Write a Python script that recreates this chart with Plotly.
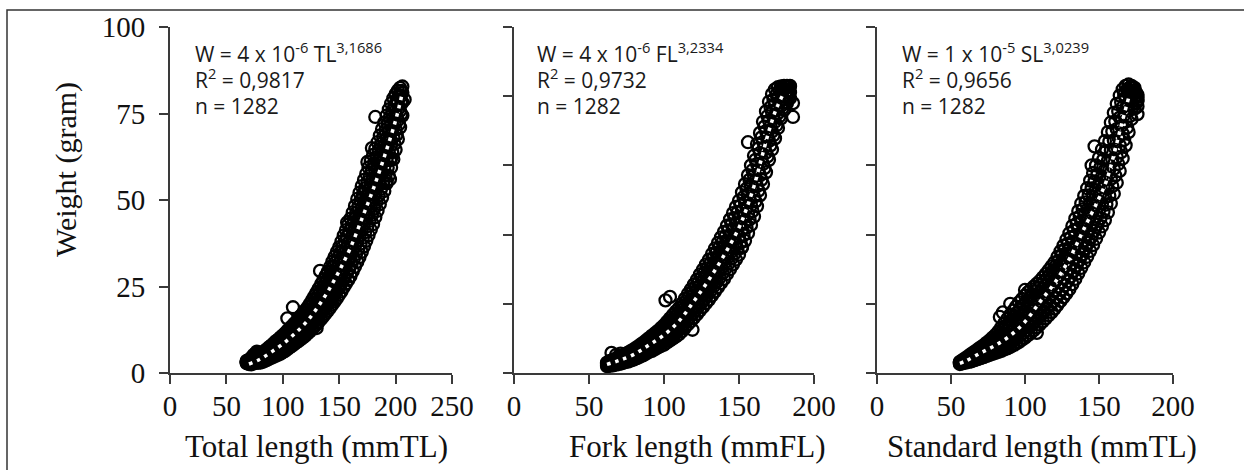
import plotly.graph_objects as go

# ---------------- data ----------------
# Each cloud: a list of lengths (every 2 mm) with four weight columns across the band,
# plus a list of odd lengths with three weight columns, plus a few outlying fish.

# Panel 1: Total length (mm) vs weight (g)
tl_len = [68, 70, 72, 74, 76, 78, 80, 82, 84, 86, 88, 90, 92, 94, 96, 98, 100, 102, 104, 106,
          108, 110, 112, 114, 116, 118, 120, 122, 124, 126, 128, 130, 132, 134, 136, 138, 140, 142, 144, 146,
          148, 150, 152, 154, 156, 158, 160, 162, 164, 166, 168, 170, 172, 174, 176, 178, 180, 182, 184, 186,
          188, 190, 192, 194, 196, 198, 200, 202, 204, 206]
tl_w1 = [2.8, 2.6, 2.5, 2.8, 2.9, 3.0, 3.0, 3.2, 3.5, 3.8, 4.1, 4.4, 4.7, 5.0, 5.3, 5.6, 6.0, 6.4, 6.9, 7.4,
         7.8, 8.3, 8.8, 9.3, 9.8, 10.3, 10.8, 11.4, 12.0, 12.7, 13.4, 14.0, 14.8, 15.6, 16.4, 17.2, 18.0, 18.9, 19.8, 20.7,
         21.6, 22.6, 23.6, 24.8, 25.8, 26.9, 28.0, 29.4, 30.7, 32.1, 33.5, 35.0, 36.6, 38.2, 39.8, 41.4, 43.0, 45.0, 46.9, 48.8,
         50.7, 52.6, 54.8, 57.0, 59.4, 61.8, 64.5, 67.6, 71.0, 74.4]
tl_w2 = [3.0, 2.9, 3.0, 3.3, 3.5, 3.6, 3.8, 4.1, 4.4, 4.8, 5.2, 5.6, 6.0, 6.4, 6.8, 7.2, 7.6, 8.1, 8.7, 9.2,
         9.7, 10.3, 10.8, 11.5, 12.0, 12.7, 13.3, 14.0, 14.7, 15.5, 16.4, 17.1, 18.1, 19.0, 19.9, 20.9, 21.8, 23.0, 24.1, 25.1,
         26.2, 27.3, 28.5, 29.8, 31.0, 32.3, 33.5, 35.1, 36.6, 38.2, 39.8, 41.5, 43.2, 44.9, 46.6, 48.3, 50.0, 51.9, 53.8, 55.7,
         57.6, 59.5, 61.6, 63.7, 65.9, 68.1, 70.4, 73.1, 75.8, 78.2]
tl_w3 = [3.2, 3.3, 3.6, 3.8, 4.1, 4.4, 4.6, 5.0, 5.3, 5.7, 6.2, 6.7, 7.1, 7.6, 8.1, 8.6, 9.2, 9.8, 10.4, 11.0,
         11.6, 12.2, 12.8, 13.5, 14.2, 14.9, 15.6, 16.4, 17.3, 18.3, 19.2, 20.1, 21.2, 22.2, 23.3, 24.4, 25.4, 26.7, 28.0, 29.2,
         30.5, 31.8, 33.2, 34.7, 36.0, 37.5, 38.9, 40.6, 42.3, 44.1, 45.8, 47.6, 49.3, 51.0, 52.8, 54.5, 56.3, 58.2, 60.1, 62.0,
         63.9, 65.8, 67.8, 69.9, 71.9, 73.9, 75.8, 77.9, 79.8, 81.0]
tl_w4 = [3.5, 3.8, 4.4, 5.2, 5.6, 5.9, 5.6, 5.9, 6.4, 6.9, 7.5, 8.0, 8.6, 9.2, 9.7, 10.3, 10.9, 11.5, 12.2, 12.9,
         13.5, 14.2, 14.9, 15.7, 16.5, 17.3, 18.1, 19.0, 20.0, 21.1, 22.2, 23.3, 24.5, 25.7, 26.9, 28.1, 29.3, 30.7, 32.2, 33.6,
         35.0, 36.4, 38.0, 39.7, 41.3, 42.9, 44.6, 46.4, 48.3, 50.3, 52.1, 54.0, 55.8, 57.6, 59.4, 61.2, 63.0, 64.8, 66.7, 68.6,
         70.5, 72.4, 74.4, 76.2, 77.9, 79.4, 80.6, 81.6, 82.4, 82.8]
tl_len_b = [69, 71, 73, 75, 77, 79, 81, 83, 85, 87, 89, 91, 93, 95, 97, 99, 101, 103, 105, 107,
            109, 111, 113, 115, 117, 119, 121, 123, 125, 127, 129, 131, 133, 135, 137, 139, 141, 143, 145, 147,
            149, 151, 153, 155, 157, 159, 161, 163, 165, 167, 169, 171, 173, 175, 177, 179, 181, 183, 185, 187,
            189, 191, 193, 195, 197, 199, 201, 203, 205]
tl_b1 = [2.8, 2.8, 2.9, 3.1, 3.2, 3.4, 3.5, 3.8, 4.1, 4.5, 4.8, 5.2, 5.5, 5.9, 6.2, 6.6, 7.0, 7.5, 8.0, 8.5,
         9.0, 9.5, 10.1, 10.6, 11.2, 11.8, 12.4, 13.0, 13.7, 14.5, 15.2, 16.0, 16.9, 17.7, 18.6, 19.5, 20.4, 21.4, 22.4, 23.4,
         24.4, 25.5, 26.7, 27.8, 29.0, 30.2, 31.5, 33.0, 34.4, 35.9, 37.4, 39.1, 40.7, 42.4, 44.0, 45.7, 47.5, 49.4, 51.3, 53.2,
         55.1, 57.1, 59.3, 61.5, 63.8, 66.2, 68.9, 71.9, 74.8]
tl_b2 = [3.1, 3.2, 3.4, 3.7, 3.9, 4.1, 4.4, 4.7, 5.0, 5.5, 5.9, 6.3, 6.8, 7.2, 7.7, 8.2, 8.7, 9.2, 9.8, 10.4,
         11.0, 11.5, 12.2, 12.8, 13.4, 14.1, 14.8, 15.6, 16.4, 17.4, 18.2, 19.1, 20.1, 21.1, 22.1, 23.1, 24.2, 25.4, 26.6, 27.8,
         29.0, 30.2, 31.6, 32.9, 34.2, 35.6, 37.0, 38.6, 40.3, 42.0, 43.7, 45.4, 47.1, 48.8, 50.6, 52.3, 54.1, 56.0, 57.9, 59.8,
         61.7, 63.7, 65.8, 67.8, 70.0, 72.0, 74.3, 76.6, 78.7]
tl_b3 = [3.5, 3.8, 4.2, 4.7, 5.0, 5.1, 5.3, 5.6, 6.1, 6.6, 7.1, 7.6, 8.1, 8.6, 9.2, 9.8, 10.4, 11.0, 11.6, 12.2,
         12.9, 13.5, 14.2, 15.0, 15.7, 16.5, 17.3, 18.2, 19.2, 20.2, 21.2, 22.3, 23.4, 24.5, 25.7, 26.8, 28.0, 29.4, 30.8, 32.1,
         33.4, 34.8, 36.4, 37.9, 39.4, 41.0, 42.6, 44.4, 46.2, 48.1, 49.9, 51.7, 53.4, 55.2, 57.0, 58.8, 60.6, 62.4, 64.4, 66.2,
         68.2, 70.1, 72.1, 74.0, 75.8, 77.4, 79.0, 80.4, 81.5]
tl_out_len = [109, 133, 104, 130, 175, 179, 182, 192, 196, 157, 195, 77, 208]
tl_out_wt = [19.0, 29.5, 15.8, 13.0, 61.0, 65.0, 74.0, 55.5, 62.0, 43.5, 56.0, 6.2, 79.0]
tl_fit_len = [70, 80, 90, 100, 110, 120, 130, 140, 150, 160, 170, 180, 190, 200, 206]
tl_fit_wt = [2.6, 4.0, 6.1, 8.4, 11.2, 14.4, 18.6, 23.6, 29.5, 36.2, 44.5, 53.0, 62.5, 73.0, 81.0]

# Panel 2: Fork length (mm) vs weight (g)
fl_len = [62, 64, 66, 68, 70, 72, 74, 76, 78, 80, 82, 84, 86, 88, 90, 92, 94, 96, 98, 100,
          102, 104, 106, 108, 110, 112, 114, 116, 118, 120, 122, 124, 126, 128, 130, 132, 134, 136, 138, 140,
          142, 144, 146, 148, 150, 152, 154, 156, 158, 160, 162, 164, 166, 168, 170, 172, 174, 176, 178, 180,
          182, 184]
fl_w1 = [2.0, 2.1, 2.2, 2.4, 2.6, 2.8, 3.1, 3.3, 3.6, 3.9, 4.3, 4.7, 5.1, 5.6, 6.1, 6.4, 6.9, 7.4, 7.8, 8.2,
         8.8, 9.4, 10.0, 10.6, 11.2, 12.1, 13.1, 14.1, 15.0, 16.0, 17.0, 18.1, 19.1, 20.2, 21.2, 22.4, 23.6, 24.8, 26.0, 27.2,
         28.6, 30.0, 31.4, 32.8, 34.2, 36.2, 38.2, 40.4, 42.8, 45.2, 48.2, 51.4, 54.6, 58.0, 61.6, 64.6, 67.8, 70.8, 73.6, 76.0,
         78.0, 79.4]
fl_w2 = [2.3, 2.6, 2.7, 3.0, 3.3, 3.5, 3.9, 4.1, 4.5, 4.9, 5.3, 5.8, 6.3, 6.8, 7.4, 7.8, 8.4, 9.0, 9.5, 10.0,
         10.8, 11.5, 12.2, 12.9, 13.7, 14.7, 15.8, 17.0, 18.0, 19.1, 20.2, 21.5, 22.6, 23.8, 25.0, 26.3, 27.6, 29.0, 30.3, 31.6,
         33.2, 34.7, 36.2, 37.7, 39.3, 41.4, 43.5, 45.9, 48.4, 50.9, 54.0, 57.2, 60.4, 63.7, 67.1, 69.8, 72.6, 75.1, 77.2, 79.0,
         80.3, 81.1]
fl_w3 = [2.7, 3.0, 3.3, 3.6, 3.9, 4.3, 4.7, 5.1, 5.5, 5.9, 6.5, 7.0, 7.5, 8.2, 8.8, 9.4, 10.0, 10.6, 11.3, 12.0,
         12.9, 13.7, 14.6, 15.5, 16.3, 17.5, 18.8, 20.0, 21.2, 22.5, 23.8, 25.1, 26.4, 27.8, 29.0, 30.5, 32.0, 33.4, 34.9, 36.4,
         38.0, 39.7, 41.4, 43.1, 44.7, 47.0, 49.3, 51.7, 54.4, 57.1, 60.4, 63.6, 66.8, 69.9, 72.9, 75.4, 77.8, 79.7, 81.2, 82.2,
         82.6, 82.8]
fl_w4 = [3.0, 3.5, 3.8, 4.2, 4.6, 5.0, 5.5, 5.9, 6.4, 6.9, 7.5, 8.1, 8.7, 9.4, 10.1, 10.8, 11.5, 12.2, 13.0, 13.8,
         14.8, 15.8, 16.8, 17.8, 18.8, 20.1, 21.5, 22.9, 24.2, 25.6, 27.0, 28.5, 29.9, 31.4, 32.8, 34.4, 36.0, 37.6, 39.2, 40.8,
         42.6, 44.4, 46.2, 48.0, 49.8, 52.2, 54.6, 57.2, 60.0, 62.8, 66.2, 69.4, 72.6, 75.6, 78.4, 80.6, 82.0, 82.6, 82.8, 83.0,
         83.0, 83.0]
fl_len_b = [63, 65, 67, 69, 71, 73, 75, 77, 79, 81, 83, 85, 87, 89, 91, 93, 95, 97, 99, 101,
            103, 105, 107, 109, 111, 113, 115, 117, 119, 121, 123, 125, 127, 129, 131, 133, 135, 137, 139, 141,
            143, 145, 147, 149, 151, 153, 155, 157, 159, 161, 163, 165, 167, 169, 171, 173, 175, 177, 179, 181,
            183]
fl_b1 = [2.25, 2.4, 2.6, 2.8, 3.05, 3.3, 3.6, 3.9, 4.2, 4.6, 5.0, 5.5, 5.95, 6.5, 6.9, 7.4, 7.9, 8.4, 8.9, 9.45,
         10.1, 10.8, 11.4, 12.1, 12.9, 13.9, 15.0, 16.0, 17.0, 18.1, 19.2, 20.3, 21.4, 22.55, 23.7, 25.0, 26.25, 27.5, 28.8, 30.15,
         31.6, 33.1, 34.5, 36.0, 37.8, 39.8, 42.0, 44.4, 46.8, 49.6, 52.7, 55.9, 59.2, 62.6, 65.8, 68.7, 71.6, 74.2, 76.5, 78.3,
         79.7]
fl_b2 = [2.65, 2.9, 3.15, 3.45, 3.75, 4.1, 4.45, 4.8, 5.2, 5.65, 6.15, 6.65, 7.2, 7.8, 8.35, 8.9, 9.5, 10.1, 10.7, 11.4,
         12.2, 13.0, 13.8, 14.6, 15.55, 16.7, 17.9, 19.05, 20.2, 21.4, 22.65, 23.9, 25.15, 26.4, 27.7, 29.1, 30.5, 31.9, 33.3, 34.8,
         36.4, 38.0, 39.6, 41.2, 43.1, 45.3, 47.6, 50.1, 52.7, 55.6, 58.8, 62.0, 65.2, 68.4, 71.3, 73.9, 76.3, 78.3, 79.9, 81.0,
         81.7]
fl_b3 = [3.05, 3.4, 3.7, 4.1, 4.45, 4.9, 5.3, 5.7, 6.2, 6.7, 7.3, 7.8, 8.45, 9.1, 9.8, 10.4, 11.1, 11.8, 12.5, 13.4,
         14.3, 15.2, 16.2, 17.1, 18.2, 19.5, 20.8, 22.1, 23.4, 24.7, 26.1, 27.5, 28.9, 30.25, 31.7, 33.2, 34.75, 36.3, 37.8, 39.45,
         41.2, 42.9, 44.7, 46.4, 48.4, 50.8, 53.2, 55.8, 58.6, 61.6, 64.9, 68.1, 71.2, 74.2, 76.8, 79.0, 80.5, 81.6, 82.3, 82.7,
         82.85]
fl_out_len = [65, 68, 101, 104, 156, 119, 152, 186, 186, 71]
fl_out_wt = [5.8, 5.2, 21.0, 22.0, 66.7, 12.5, 36.5, 74.0, 78.0, 5.6]
fl_fit_len = [62, 70, 80, 90, 100, 110, 120, 130, 140, 150, 155, 160, 165, 170, 175, 180]
fl_fit_wt = [2.5, 3.6, 5.4, 8.1, 11.0, 15.0, 20.8, 27.0, 34.0, 42.0, 47.5, 54.0, 62.0, 70.0, 76.5, 81.0]

# Panel 3: Standard length (mm) vs weight (g)
sl_len = [56, 58, 60, 62, 64, 66, 68, 70, 72, 74, 76, 78, 80, 82, 84, 86, 88, 90, 92, 94,
          96, 98, 100, 102, 104, 106, 108, 110, 112, 114, 116, 118, 120, 122, 124, 126, 128, 130, 132, 134,
          136, 138, 140, 142, 144, 146, 148, 150, 152, 154, 156, 158, 160, 162, 164, 166, 168, 170, 172, 174,
          176]
sl_w1 = [2.6, 2.8, 3.0, 3.2, 3.4, 3.7, 4.0, 4.3, 4.6, 4.9, 5.2, 5.5, 5.8, 6.1, 6.4, 6.8, 7.1, 7.5, 8.0, 8.5,
         9.0, 9.6, 10.2, 10.9, 11.6, 12.4, 13.2, 14.0, 14.9, 15.8, 16.7, 17.6, 18.6, 19.7, 20.8, 21.9, 23.0, 24.2, 25.7, 27.2,
         28.8, 30.4, 32.0, 33.6, 35.3, 37.0, 38.8, 40.6, 42.4, 44.2, 46.4, 49.0, 51.8, 55.0, 58.4, 62.0, 65.8, 69.6, 73.4, 76.4,
         77.0]
sl_w2 = [2.8, 3.1, 3.4, 3.7, 4.1, 4.5, 4.9, 5.3, 5.7, 6.1, 6.5, 6.9, 7.3, 7.8, 8.3, 8.8, 9.3, 9.9, 10.6, 11.3,
         12.0, 12.8, 13.6, 14.6, 15.6, 16.6, 17.6, 18.6, 19.6, 20.6, 21.6, 22.6, 23.6, 24.9, 26.2, 27.5, 28.8, 30.1, 31.7, 33.3,
         34.9, 36.6, 38.3, 40.0, 41.7, 43.4, 45.2, 47.0, 48.9, 50.8, 53.3, 56.1, 59.0, 62.4, 65.8, 69.2, 72.6, 75.8, 78.4, 79.8,
         78.6]
sl_w3 = [3.0, 3.4, 3.8, 4.3, 4.8, 5.3, 5.8, 6.4, 6.9, 7.4, 7.9, 8.5, 9.0, 9.8, 10.5, 11.3, 12.1, 12.9, 13.9, 14.9,
         15.9, 16.9, 17.9, 19.0, 20.1, 21.2, 22.3, 23.4, 24.4, 25.4, 26.4, 27.4, 28.5, 29.9, 31.4, 32.9, 34.4, 36.0, 37.9, 39.8,
         41.7, 43.5, 45.4, 47.2, 49.1, 50.9, 52.8, 54.6, 56.7, 58.7, 61.3, 64.3, 67.2, 70.5, 73.8, 76.8, 79.6, 81.6, 82.4, 81.6,
         79.8]
sl_w4 = [3.2, 3.8, 4.4, 5.0, 5.6, 6.2, 6.8, 7.4, 8.0, 8.7, 9.4, 10.2, 11.0, 12.0, 13.2, 14.4, 15.6, 16.8, 18.0, 19.2,
         20.4, 21.4, 22.4, 23.3, 24.2, 25.0, 25.8, 26.6, 27.6, 28.6, 29.7, 30.8, 32.0, 33.6, 35.2, 36.8, 38.6, 40.4, 42.5, 44.6,
         46.8, 49.0, 51.2, 53.4, 55.6, 57.8, 60.0, 62.2, 64.6, 67.0, 69.6, 72.4, 75.2, 77.8, 80.2, 82.0, 83.0, 83.4, 83.0, 82.4,
         80.4]
sl_len_b = [57, 59, 61, 63, 65, 67, 69, 71, 73, 75, 77, 79, 81, 83, 85, 87, 89, 91, 93, 95,
            97, 99, 101, 103, 105, 107, 109, 111, 113, 115, 117, 119, 121, 123, 125, 127, 129, 131, 133, 135,
            137, 139, 141, 143, 145, 147, 149, 151, 153, 155, 157, 159, 161, 163, 165, 167, 169, 171, 173, 175]
sl_b1 = [2.8, 3.1, 3.3, 3.6, 3.9, 4.3, 4.6, 5.0, 5.3, 5.7, 6.0, 6.4, 6.75, 7.15, 7.6, 8.0, 8.45, 9.0, 9.6, 10.2,
         10.85, 11.55, 12.3, 13.2, 14.05, 14.95, 15.85, 16.8, 17.7, 18.7, 19.6, 20.6, 21.7, 22.9, 24.1, 25.3, 26.5, 27.9, 29.5, 31.05,
         32.7, 34.3, 36.0, 37.65, 39.35, 41.1, 42.9, 44.7, 46.6, 48.7, 51.2, 54.0, 57.05, 60.4, 63.85, 67.4, 70.95, 74.3, 77.0, 77.95]
sl_b2 = [3.1, 3.4, 3.8, 4.2, 4.7, 5.1, 5.6, 6.1, 6.5, 7.0, 7.45, 7.9, 8.5, 9.1, 9.7, 10.4, 11.05, 11.8, 12.7, 13.5,
         14.4, 15.3, 16.3, 17.3, 18.4, 19.4, 20.5, 21.5, 22.5, 23.5, 24.5, 25.5, 26.7, 28.1, 29.5, 30.9, 32.3, 33.9, 35.7, 37.4,
         39.2, 40.95, 42.7, 44.5, 46.3, 48.1, 49.9, 51.8, 53.8, 56.0, 58.75, 61.65, 64.8, 68.1, 71.4, 74.55, 77.4, 79.55, 80.55, 79.95]
sl_b3 = [3.35, 3.85, 4.4, 4.9, 5.5, 6.0, 6.6, 7.2, 7.75, 8.35, 9.0, 9.7, 10.45, 11.4, 12.35, 13.35, 14.35, 15.4, 16.5, 17.6,
         18.65, 19.65, 20.65, 21.65, 22.6, 23.6, 24.5, 25.5, 26.5, 27.5, 28.6, 29.7, 31.0, 32.5, 34.1, 35.7, 37.35, 39.2, 41.2, 43.2,
         45.25, 47.3, 49.3, 51.3, 53.35, 55.4, 57.4, 59.5, 61.75, 64.15, 66.9, 69.8, 72.7, 75.6, 78.2, 80.35, 81.9, 82.6, 82.35, 81.05]
sl_out_len = [83, 85, 108, 147, 145, 176, 176, 100, 90]
sl_out_wt = [16.2, 17.5, 11.6, 65.5, 60.0, 79.0, 74.8, 24.0, 20.0]
sl_fit_len = [56, 60, 70, 80, 90, 100, 110, 120, 130, 140, 150, 155, 160, 165, 170]
sl_fit_wt = [2.8, 3.5, 5.8, 8.0, 10.8, 14.8, 20.5, 26.0, 33.0, 41.8, 50.5, 55.5, 63.0, 71.5, 79.5]

x_titles = ["Total length (mmTL)", "Fork length (mmFL)", "Standard length (mmTL)"]
eq_main = ["W = 4 x 10<sup>-6</sup> TL<sup>3,1686</sup>",
           "W = 4 x 10<sup>-6</sup> FL<sup>3,2334</sup>",
           "W = 1 x 10<sup>-5</sup> SL<sup>3,0239</sup>"]
eq_r2 = ["R<sup>2</sup> = 0,9817", "R<sup>2</sup> = 0,9732", "R<sup>2</sup> = 0,9656"]
eq_n = ["n = 1282", "n = 1282", "n = 1282"]
y_title = "Weight (gram)"

# ---------------- figure ----------------
W, H = 1244, 470
SERIF = "Liberation Serif, Times New Roman, serif"
SANS = "Open Sans, Noto Sans, sans-serif"
AX = "#3a3a3a"


def px(x):
    return x / W


def py(y):
    return (H - y) / H


def cloud(groups, out_l, out_w):
    xs, ys = [], []
    for lengths, cols in groups:
        for col in cols:
            for a, b in zip(lengths, col):
                xs.append(a)
                ys.append(b)
    for a, b in zip(out_l, out_w):
        xs.append(a)
        ys.append(b)
    return xs, ys


panels = [
    (cloud([(tl_len, [tl_w1, tl_w2, tl_w3, tl_w4]), (tl_len_b, [tl_b1, tl_b2, tl_b3])],
           tl_out_len, tl_out_wt), tl_fit_len, tl_fit_wt),
    (cloud([(fl_len, [fl_w1, fl_w2, fl_w3, fl_w4]), (fl_len_b, [fl_b1, fl_b2, fl_b3])],
           fl_out_len, fl_out_wt), fl_fit_len, fl_fit_wt),
    (cloud([(sl_len, [sl_w1, sl_w2, sl_w3, sl_w4]), (sl_len_b, [sl_b1, sl_b2, sl_b3])],
           sl_out_len, sl_out_wt), sl_fit_len, sl_fit_wt),
]
xdomains = [(170, 452), (514, 814), (877, 1173)]
xranges = [[0, 250], [0, 200], [0, 200]]
ydom = [py(373), py(27)]

fig = go.Figure()
for i, ((cx, cy), fx, fy) in enumerate(panels):
    xa = "x" if i == 0 else f"x{i+1}"
    ya = "y" if i == 0 else f"y{i+1}"
    fig.add_trace(go.Scatter(
        x=cx, y=cy, mode="markers", xaxis=xa, yaxis=ya, showlegend=False,
        marker=dict(symbol="circle-open", size=12, color="black",
                    line=dict(width=2.3, color="black")),
        cliponaxis=False))
    fig.add_trace(go.Scatter(
        x=fx, y=fy, mode="lines", xaxis=xa, yaxis=ya, showlegend=False,
        line=dict(color="white", width=3.5, dash="3.5px,5px", shape="spline")))

layout = dict(
    width=W, height=H, autosize=False,
    margin=dict(l=0, r=0, t=0, b=0, pad=0, autoexpand=False),
    paper_bgcolor="white", plot_bgcolor="white",
    showlegend=False,
)
for i in range(3):
    xk = "xaxis" if i == 0 else f"xaxis{i+1}"
    yk = "yaxis" if i == 0 else f"yaxis{i+1}"
    yref = "y" if i == 0 else f"y{i+1}"
    xref = "x" if i == 0 else f"x{i+1}"
    layout[xk] = dict(
        domain=[px(xdomains[i][0]), px(xdomains[i][1])],
        range=xranges[i], anchor=yref, tickmode="linear", tick0=0, dtick=50,
        showline=True, linecolor=AX, linewidth=2, ticks="outside", ticklen=9,
        tickwidth=2, tickcolor=AX, showgrid=False, zeroline=False, automargin=False,
        tickfont=dict(family=SERIF, size=29, color="#111"), ticklabelstandoff=-3,
        fixedrange=True)
    layout[yk] = dict(
        domain=ydom, range=[0, 100], anchor=xref, tickmode="linear", tick0=0,
        dtick=25 if i == 0 else 20, showticklabels=(i == 0),
        showline=True, linecolor=AX, linewidth=2, ticks="outside", ticklen=9,
        tickwidth=2, tickcolor=AX, showgrid=False, zeroline=False, automargin=False,
        tickfont=dict(family=SERIF, size=29, color="#111"), ticklabelstandoff=8,
        fixedrange=True)
fig.update_layout(**layout)

ann = []
title_cx = [316, 697, 1042]
eq_x = [193, 535, 900]
for i in range(3):
    ann.append(dict(text=x_titles[i], xref="paper", yref="paper",
                    x=px(title_cx[i]), y=py(446), xanchor="center", yanchor="middle",
                    showarrow=False, font=dict(family=SERIF, size=31, color="#111")))
    for txt, yy in ((eq_main[i], 52), (eq_r2[i], 78), (eq_n[i], 106)):
        ann.append(dict(text=txt, xref="paper", yref="paper",
                        x=px(eq_x[i]), y=py(yy), xanchor="left", yanchor="middle",
                        showarrow=False, font=dict(family=SANS, size=21, color="#1a1a1a")))
ann.append(dict(text=y_title, xref="paper", yref="paper", x=px(66), y=py(170),
                xanchor="center", yanchor="middle", textangle=-90, showarrow=False,
                font=dict(family=SERIF, size=30, color="#111")))
fig.update_layout(annotations=ann)

fig.add_shape(type="rect", xref="paper", yref="paper",
              x0=px(7), x1=px(1252), y0=py(10), y1=py(480),
              line=dict(color="#333", width=1.5), fillcolor="rgba(0,0,0,0)")

fig.write_html("out.html", config={"displayModeBar": False},
               post_script="document.body.style.margin='0px';document.body.style.padding='0px';")
